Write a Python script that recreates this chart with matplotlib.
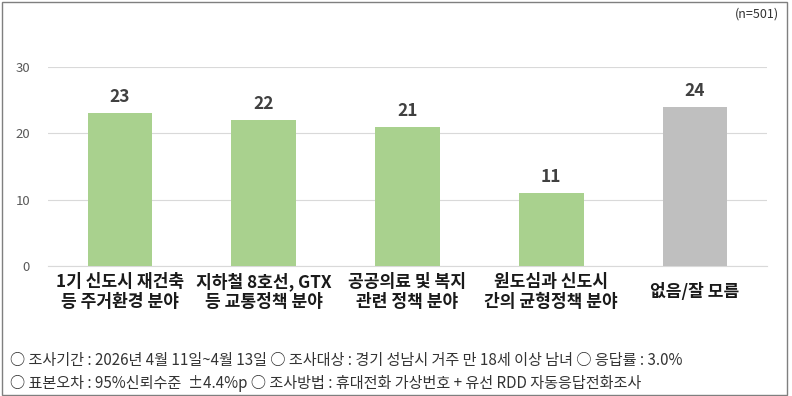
import matplotlib
matplotlib.use("Agg")
import matplotlib.pyplot as plt
from matplotlib.patches import Rectangle

plt.rcParams['font.family'] = ['Noto Sans CJK KR', 'DejaVu Sans']

# data
categories = ["1기 신도시 재건축\n등 주거환경 분야",
              "지하철 8호선, GTX\n등 교통정책 분야",
              "공공의료 및 복지\n관련 정책 분야",
              "원도심과 신도시\n간의 균형정책 분야",
              "없음/잘 모름"]
values = [23, 22, 21, 11, 24]
bar_colors = ["#a9d18e", "#a9d18e", "#a9d18e", "#a9d18e", "#bfbfbf"]
yticks = [0, 10, 20, 30]
footer = ["○ 조사기간 : 2026년 4월 11일~4월 13일 ○ 조사대상 : 경기 성남시 거주 만 18세 이상 남녀 ○ 응답률 : 3.0%",
          "○ 표본오차 : 95%신뢰수준  ±4.4%p ○ 조사방법 : 휴대전화 가상번호 + 유선 RDD 자동응답전화조사"]

fig = plt.figure(figsize=(7.92, 3.96), dpi=100)
ax = fig.add_axes([48/792, 1-266/396, (767-48)/792, 199/396])

x = range(len(categories))
ax.bar(x, values, width=0.45, color=bar_colors, zorder=3)
for i, v in zip(x, values):
    ax.annotate(str(v), (i, v), xytext=(0, 5), textcoords="offset points",
                ha="center", va="bottom", fontsize=12.5, fontweight="bold",
                color="#404040")
    ax.annotate(categories[i], (i, 0), xytext=(0, -18.5), textcoords="offset points",
                ha="center", va="center", fontsize=12.3, fontweight="bold",
                color="#1a1a1a", linespacing=1.12, annotation_clip=False)

ax.set_xlim(-0.5, len(categories) - 0.5)
ax.set_ylim(0, 30)
ax.set_yticks(yticks)
ax.set_xticks([])
ax.tick_params(axis="y", length=0, labelsize=9.5, labelcolor="#595959", pad=13)
ax.grid(axis="y", color="#d9d9d9", linewidth=0.8, zorder=0)
for s in ["top", "right", "left"]:
    ax.spines[s].set_visible(False)
ax.spines["bottom"].set_color("#d9d9d9")
ax.spines["bottom"].set_linewidth(0.8)

fig.text(779/792, 1-14/396, "(n=501)", ha="right", va="center", fontsize=9, color="#333333")
fig.text(10/792, 1-361/396, footer[0], ha="left", va="center", fontsize=10.9, color="#333333")
fig.text(10/792, 1-383/396, footer[1], ha="left", va="center", fontsize=10.9, color="#333333")

fig.patches.append(Rectangle((2/792, 1/396), 785/792, 393/396, transform=fig.transFigure,
                             fill=False, edgecolor="#7f7f7f", linewidth=1))

fig.savefig("out.png", dpi=100)
